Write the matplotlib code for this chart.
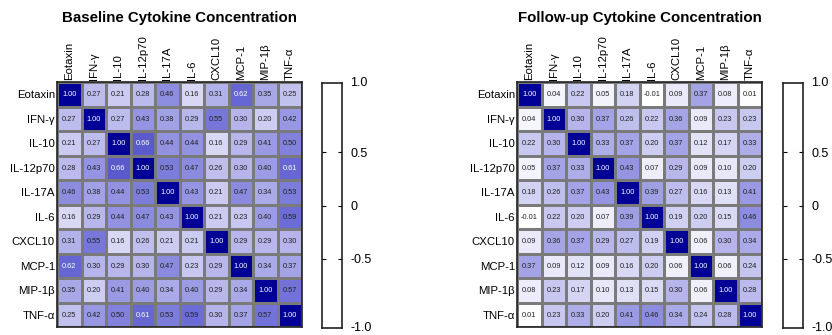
import numpy as np
import matplotlib
matplotlib.use("Agg")
import matplotlib.pyplot as plt
from matplotlib.colors import LinearSegmentedColormap

plt.rcParams['font.family'] = ['Liberation Sans', 'DejaVu Sans']

citoquinas = ["Eotaxin", "IFN-γ", "IL-10", "IL-12p70", "IL-17A", "IL-6",
              "CXCL10", "MCP-1", "MIP-1β", "TNF-α"]

basal = [
    [1.00, 0.27, 0.21, 0.28, 0.46, 0.16, 0.31, 0.62, 0.35, 0.25],
    [0.27, 1.00, 0.27, 0.43, 0.38, 0.29, 0.55, 0.30, 0.20, 0.42],
    [0.21, 0.27, 1.00, 0.66, 0.44, 0.44, 0.16, 0.29, 0.41, 0.50],
    [0.28, 0.43, 0.66, 1.00, 0.53, 0.47, 0.26, 0.30, 0.40, 0.61],
    [0.46, 0.38, 0.44, 0.53, 1.00, 0.43, 0.21, 0.47, 0.34, 0.53],
    [0.16, 0.29, 0.44, 0.47, 0.43, 1.00, 0.21, 0.23, 0.40, 0.59],
    [0.31, 0.55, 0.16, 0.26, 0.21, 0.21, 1.00, 0.29, 0.29, 0.30],
    [0.62, 0.30, 0.29, 0.30, 0.47, 0.23, 0.29, 1.00, 0.34, 0.37],
    [0.35, 0.20, 0.41, 0.40, 0.34, 0.40, 0.29, 0.34, 1.00, 0.57],
    [0.25, 0.42, 0.50, 0.61, 0.53, 0.59, 0.30, 0.37, 0.57, 1.00],
]

seguimiento = [
    [1.00, 0.04, 0.22, 0.05, 0.18, -0.01, 0.09, 0.37, 0.08, 0.01],
    [0.04, 1.00, 0.30, 0.37, 0.26, 0.22, 0.36, 0.09, 0.23, 0.23],
    [0.22, 0.30, 1.00, 0.33, 0.37, 0.20, 0.37, 0.12, 0.17, 0.33],
    [0.05, 0.37, 0.33, 1.00, 0.43, 0.07, 0.29, 0.09, 0.10, 0.20],
    [0.18, 0.26, 0.37, 0.43, 1.00, 0.39, 0.27, 0.16, 0.13, 0.41],
    [-0.01, 0.22, 0.20, 0.07, 0.39, 1.00, 0.19, 0.20, 0.15, 0.46],
    [0.09, 0.36, 0.37, 0.29, 0.27, 0.19, 1.00, 0.06, 0.30, 0.34],
    [0.37, 0.09, 0.12, 0.09, 0.16, 0.20, 0.06, 1.00, 0.06, 0.24],
    [0.08, 0.23, 0.17, 0.10, 0.13, 0.15, 0.30, 0.06, 1.00, 0.28],
    [0.01, 0.23, 0.33, 0.20, 0.41, 0.46, 0.34, 0.24, 0.28, 1.00],
]

# ticks interiores de la barra; los extremos se rotulan aparte
ticks_barra = [0.5, 0, -0.5]
etiquetas_barra = ["0.5", "0", "-0.5"]
extremos_barra = ["1.0", "-1.0"]

W, H = 832, 335
mapa = LinearSegmentedColormap.from_list(
    "blancoazul", [(0.0, "#ffffff"), (0.6, "#6a6ad6"), (1.0, "#000096")])


def px(x0, y0, x1, y1):
    # caja en pixeles (arriba-izquierda) -> fracciones de figura
    return [x0 / W, 1 - y1 / H, (x1 - x0) / W, (y1 - y0) / H]


def dibujar_mapa(fig, datos, caja, titulo):
    ax = fig.add_axes(px(*caja))
    m = np.clip(np.array(datos), 0, 1)
    n = len(citoquinas)
    ax.pcolormesh(np.arange(n + 1), np.arange(n + 1), m, cmap=mapa, vmin=0, vmax=1,
                  edgecolors="#7a7a7a", linewidth=0.9)
    ax.set_xlim(0, n)
    ax.set_ylim(n, 0)
    for i in range(n):
        for j in range(n):
            v = datos[i][j]
            ax.text(j + 0.5, i + 0.53, f"{v:.2f}", ha="center", va="center",
                    fontsize=5.3, color="white" if v >= 0.6 else "#222222")
    ax.xaxis.tick_top()
    ax.set_xticks(np.arange(n) + 0.5)
    ax.set_xticklabels(citoquinas, rotation=90, fontsize=8.2)
    ax.set_yticks(np.arange(n) + 0.5)
    ax.set_yticklabels(citoquinas, fontsize=8.2)
    ax.tick_params(length=0, pad=1.5)
    for s in ax.spines.values():
        s.set_linewidth(1.2)
        s.set_color("#222222")
    cx = (caja[0] + caja[2]) / 2
    fig.text(cx / W, 1 - 18 / H, titulo, ha="center", va="center",
             fontsize=10.8, fontweight="bold")
    return ax


def dibujar_barra(fig, caja):
    ax = fig.add_axes(px(*caja))
    ax.set_xlim(0, 1)
    ax.set_ylim(-1.15, 1.15)
    ax.set_xticks([])
    ax.set_yticks(ticks_barra)
    ax.set_yticklabels(etiquetas_barra, fontsize=9)
    ax.yaxis.tick_right()
    ax.tick_params(axis="y", direction="in", left=True, right=True,
                   length=3, width=0.8, pad=6)
    ax.text(1.42, 1.0, extremos_barra[0], transform=ax.transAxes,
            ha="left", va="center", fontsize=9)
    ax.text(1.42, 0.0, extremos_barra[1], transform=ax.transAxes,
            ha="left", va="center", fontsize=9)
    for s in ax.spines.values():
        s.set_linewidth(1.2)
        s.set_color("#222222")
    return ax


fig = plt.figure(figsize=(W / 100, H / 100), dpi=100)
dibujar_mapa(fig, basal, (57, 82, 302, 327), "Baseline Cytokine Concentration")
dibujar_barra(fig, (322, 83, 342, 328))
dibujar_mapa(fig, seguimiento, (517, 82, 762, 327), "Follow-up Cytokine Concentration")
dibujar_barra(fig, (783, 83, 803, 328))
fig.savefig("out.png", dpi=100)
plt.close(fig)
